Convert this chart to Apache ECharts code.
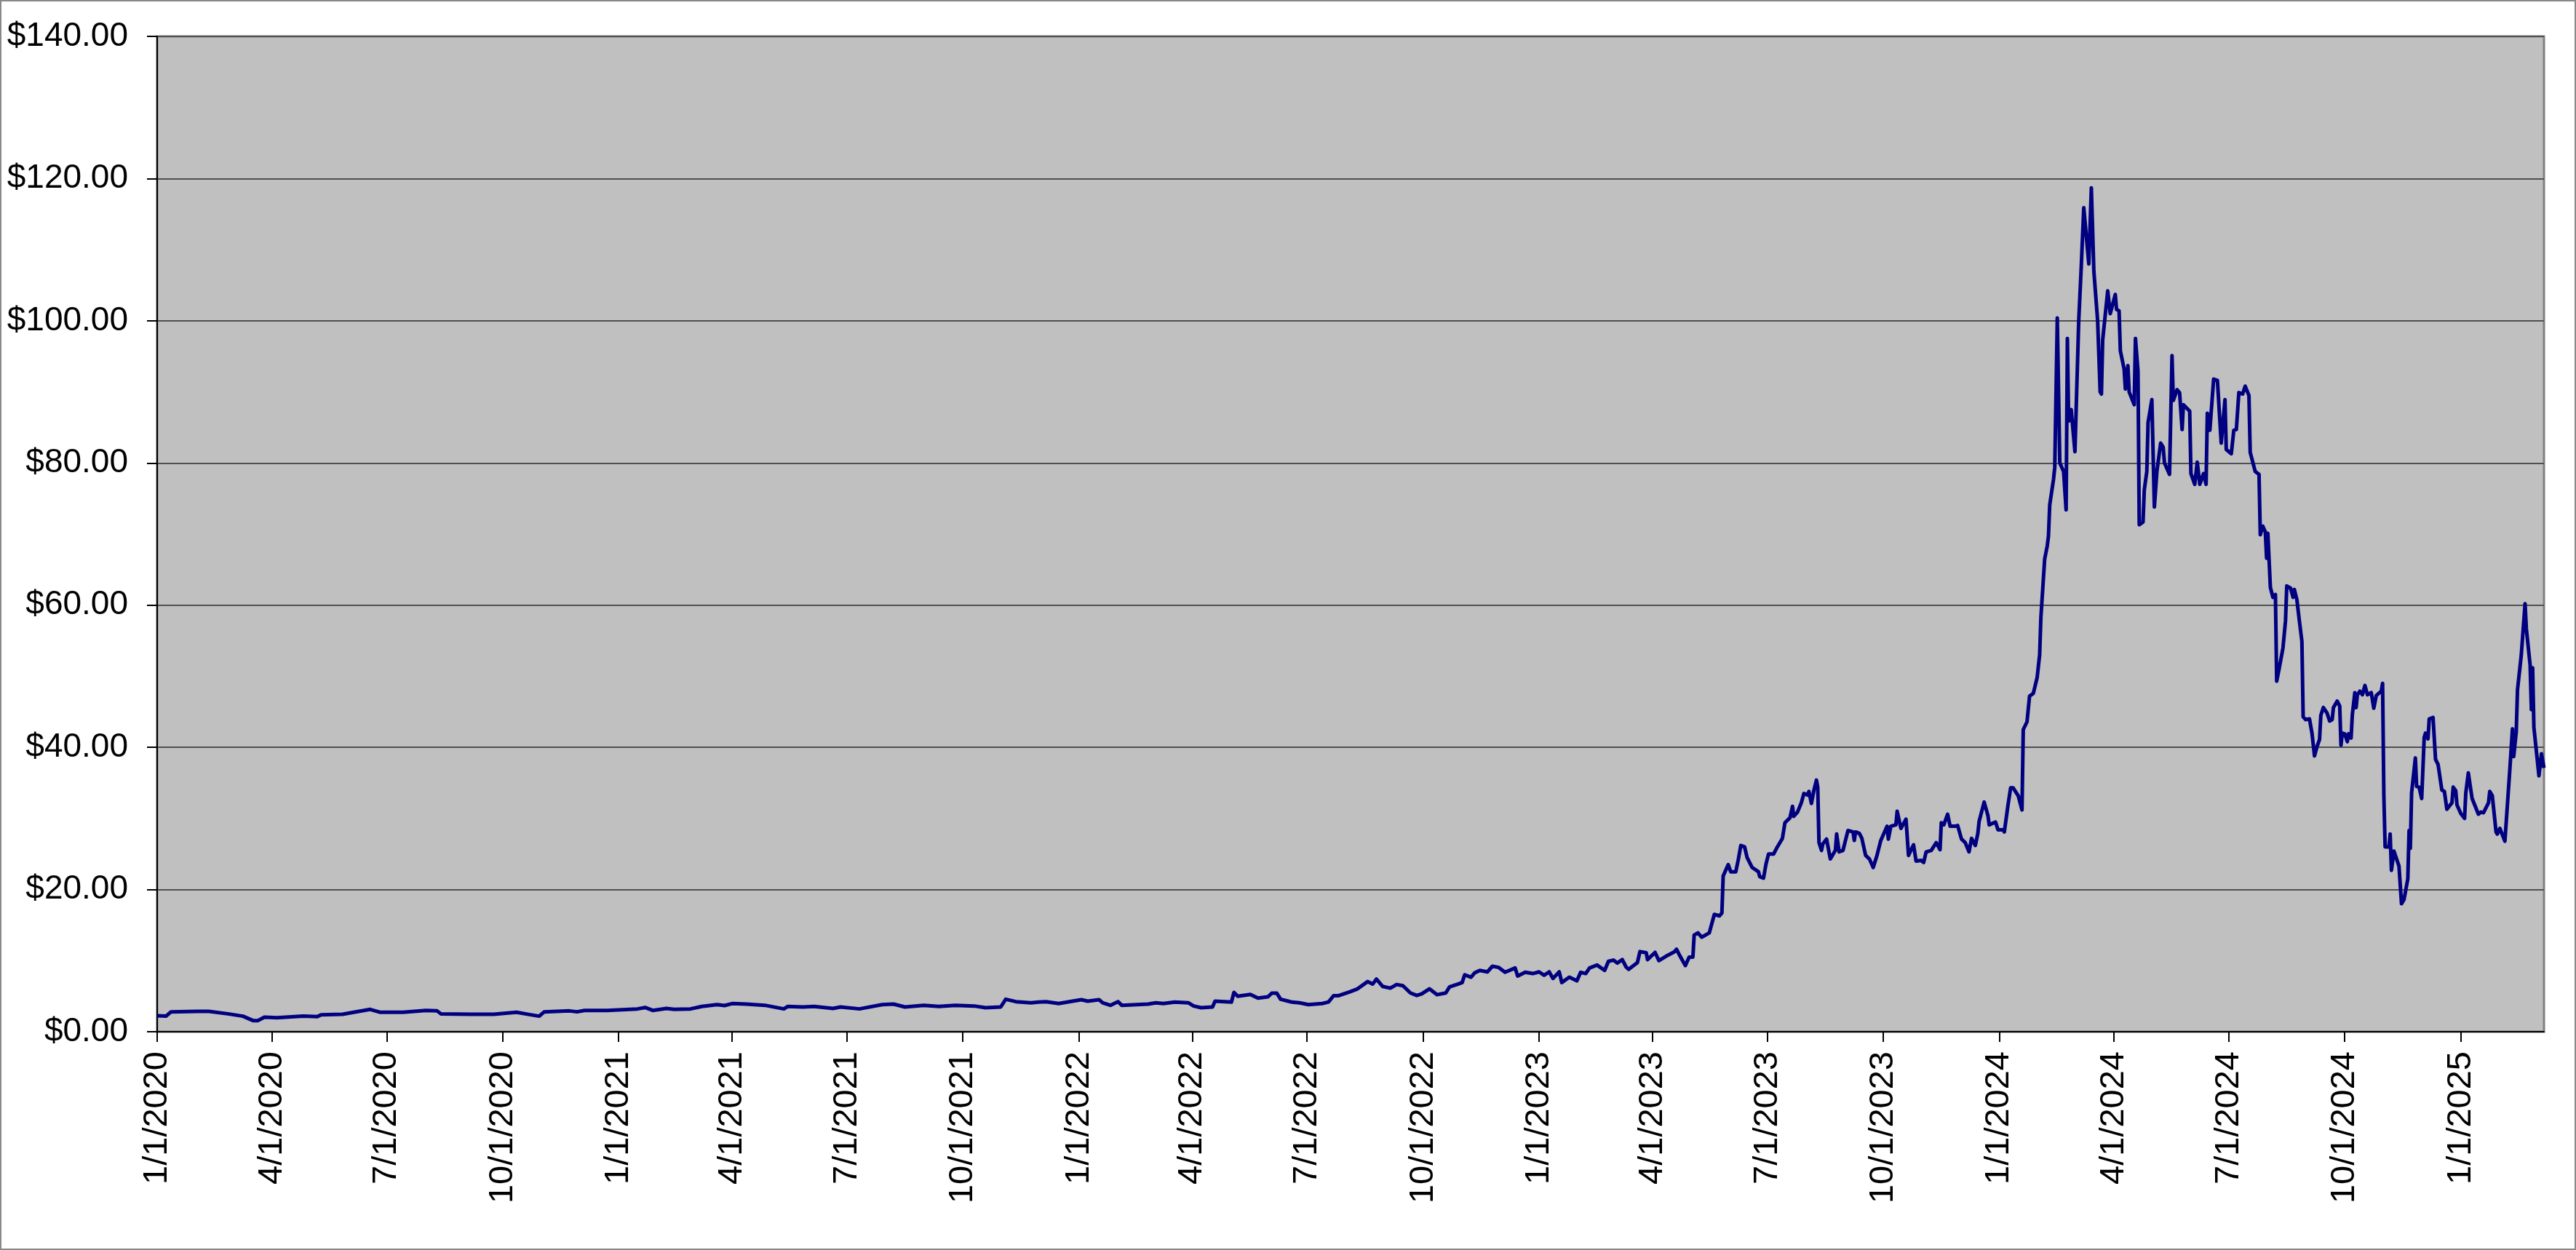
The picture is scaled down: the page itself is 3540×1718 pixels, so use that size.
<!DOCTYPE html>
<html>
<head>
<meta charset="utf-8">
<script src="https://cdn.jsdelivr.net/npm/echarts@6/dist/echarts.min.js"></script>
<style>
html,body{margin:0;padding:0;background:#fff;}
#chart{width:3540px;height:1718px;}
</style>
</head>
<body>
<div id="chart"></div>
<script>
// Quarter tick labels on the date axis
const tickDates = ['2020-01-01','2020-04-01','2020-07-01','2020-10-01','2021-01-01','2021-04-01','2021-07-01','2021-10-01','2022-01-01','2022-04-01','2022-07-01','2022-10-01','2023-01-01','2023-04-01','2023-07-01','2023-10-01','2024-01-01','2024-04-01','2024-07-01','2024-10-01','2025-01-01'];
const axisStart = '2020-01-01';
const axisEnd = '2025-03-08';

// Price series [date, price]
const prices2020 = [['2020-01-01',2.25],['2020-01-08',2.19],['2020-01-12',2.80],['2020-02-02',2.87],['2020-02-11',2.87],['2020-02-26',2.52],['2020-03-09',2.19],['2020-03-17',1.57],['2020-03-21',1.57],['2020-03-26',2.05],['2020-04-05',1.98],['2020-04-26',2.19],['2020-05-07',2.12],['2020-05-10',2.39],['2020-05-27',2.46],['2020-06-09',2.87],['2020-06-18',3.14],['2020-06-26',2.73],['2020-07-14',2.73],['2020-08-01',3.00],['2020-08-10',2.93],['2020-08-13',2.52],['2020-09-06',2.46],['2020-09-24',2.46],['2020-10-12',2.73],['2020-10-23',2.39],['2020-10-30',2.19],['2020-11-03',2.80],['2020-11-23',2.93],['2020-11-29',2.80],['2020-12-05',3.00],['2020-12-23',3.00]];
const prices2021 = [['2021-01-16',3.21],['2021-01-22',3.41],['2021-01-28',3.00],['2021-02-08',3.28],['2021-02-14',3.14],['2021-02-27',3.21],['2021-03-08',3.55],['2021-03-20',3.82],['2021-03-26',3.68],['2021-04-01',3.96],['2021-04-12',3.89],['2021-04-27',3.72],['2021-05-12',3.21],['2021-05-15',3.55],['2021-05-27',3.48],['2021-06-05',3.55],['2021-06-20',3.28],['2021-06-26',3.48],['2021-07-11',3.21],['2021-07-29',3.82],['2021-08-07',3.89],['2021-08-16',3.48],['2021-08-31',3.72],['2021-09-12',3.55],['2021-09-25',3.72],['2021-10-10',3.62],['2021-10-19',3.38],['2021-10-31',3.48],['2021-11-04',4.57],['2021-11-12',4.23],['2021-11-24',4.06],['2021-11-30',4.16],['2021-12-06',4.23],['2021-12-16',3.96],['2021-12-27',4.30]];
const prices2022 = [['2022-01-03',4.50],['2022-01-08',4.30],['2022-01-17',4.50],['2022-01-20',4.06],['2022-01-26',3.72],['2022-02-01',4.23],['2022-02-04',3.72],['2022-02-16',3.82],['2022-02-25',3.89],['2022-03-03',4.06],['2022-03-09',3.96],['2022-03-18',4.16],['2022-03-29',4.06],['2022-04-02',3.62],['2022-04-08',3.38],['2022-04-17',3.48],['2022-04-19',4.30],['2022-05-02',4.16],['2022-05-04',5.53],['2022-05-07',4.98],['2022-05-17',5.25],['2022-05-23',4.74],['2022-05-31',4.91],['2022-06-03',5.42],['2022-06-07',5.42],['2022-06-10',4.57],['2022-06-16',4.30],['2022-06-19',4.16],['2022-06-25',4.06],['2022-07-02',3.82],['2022-07-13',3.97],['2022-07-18',4.18],['2022-07-22',5.07],['2022-07-26',5.07],['2022-08-04',5.62],['2022-08-10',6.03],['2022-08-18',7.05],['2022-08-22',6.71],['2022-08-25',7.40],['2022-08-30',6.37],['2022-09-05',6.13],['2022-09-10',6.64],['2022-09-15',6.47],['2022-09-21',5.45],['2022-09-26',5.10],['2022-09-30',5.34],['2022-10-06',6.03],['2022-10-12',5.21],['2022-10-19',5.45],['2022-10-22',6.30],['2022-10-29',6.71],['2022-11-01',6.92],['2022-11-03',8.01],['2022-11-08',7.67],['2022-11-11',8.29],['2022-11-15',8.63],['2022-11-21',8.42],['2022-11-25',9.21],['2022-11-30',9.04],['2022-12-05',8.36],['2022-12-13',8.97],['2022-12-15',7.84],['2022-12-21',8.36],['2022-12-27',8.18]];
const prices2023 = [['2023-01-01',8.42],['2023-01-05',7.95],['2023-01-09',8.42],['2023-01-12',7.50],['2023-01-17',8.42],['2023-01-19',6.92],['2023-01-25',7.67],['2023-01-31',7.16],['2023-02-03',8.36],['2023-02-07',8.18],['2023-02-10',8.97],['2023-02-16',9.38],['2023-02-22',8.63],['2023-02-25',9.90],['2023-03-01',10.07],['2023-03-04',9.66],['2023-03-08',10.14],['2023-03-11',9.11],['2023-03-13',8.77],['2023-03-20',9.73],['2023-03-22',11.27],['2023-03-27',11.10],['2023-03-28',10.14],['2023-04-03',11.16],['2023-04-06',10.00],['2023-04-13',10.75],['2023-04-18',11.2],['2023-04-20',11.6],['2023-04-22',10.9],['2023-04-27',9.3],['2023-04-30',10.5],['2023-05-03',10.5],['2023-05-04',13.6],['2023-05-07',13.9],['2023-05-10',13.3],['2023-05-13',13.6],['2023-05-16',13.9],['2023-05-20',16.5],['2023-05-24',16.3],['2023-05-26',16.7],['2023-05-27',21.9],['2023-05-31',23.5],['2023-06-02',22.5],['2023-06-06',22.5],['2023-06-08',24.2],['2023-06-10',26.2],['2023-06-13',26.0],['2023-06-15',24.5],['2023-06-19',23.1],['2023-06-24',22.5],['2023-06-25',21.8],['2023-06-28',21.6],['2023-06-30',23.6],['2023-07-02',25.0],['2023-07-06',25.0],['2023-07-09',26.0],['2023-07-13',27.2],['2023-07-15',29.4],['2023-07-19',30.1],['2023-07-21',31.7],['2023-07-22',30.3],['2023-07-25',30.9],['2023-07-28',32.2],['2023-07-30',33.5],['2023-08-02',33.3],['2023-08-03',33.8],['2023-08-05',32.1],['2023-08-07',34.0],['2023-08-09',35.4],['2023-08-10',34.4],['2023-08-11',26.6],['2023-08-13',25.5],['2023-08-14',26.4],['2023-08-17',27.1],['2023-08-20',24.3],['2023-08-24',25.5],['2023-08-25',27.8],['2023-08-27',25.3],['2023-08-30',25.5],['2023-09-03',28.3],['2023-09-07',28.1],['2023-09-08',26.9],['2023-09-09',28.1],['2023-09-12',27.9],['2023-09-14',27.2],['2023-09-17',24.8],['2023-09-20',24.3],['2023-09-23',23.1],['2023-09-26',24.8],['2023-09-29',26.9],['2023-10-04',28.9],['2023-10-05',27.1],['2023-10-07',28.9],['2023-10-11',29.1],['2023-10-12',31.0],['2023-10-15',28.6],['2023-10-19',29.9],['2023-10-21',24.8],['2023-10-25',26.3],['2023-10-27',24.0],['2023-10-31',24.1],['2023-11-02',23.8],['2023-11-04',25.3],['2023-11-08',25.5],['2023-11-12',26.6],['2023-11-15',25.6],['2023-11-16',29.4],['2023-11-18',29.1],['2023-11-21',30.6],['2023-11-23',28.9],['2023-11-27',28.9],['2023-11-29',29.0],['2023-12-02',27.1],['2023-12-05',26.6],['2023-12-08',25.3],['2023-12-10',27.2],['2023-12-13',26.2],['2023-12-15',27.9],['2023-12-16',29.6],['2023-12-20',32.3],['2023-12-23',30.4],['2023-12-24',29.1],['2023-12-29',29.5],['2023-12-31',28.4]];
const prices2024a = [['2024-01-04',28.4],['2024-01-05',28.1],['2024-01-08',32.0],['2024-01-10',34.3],['2024-01-12',34.3],['2024-01-16',33.2],['2024-01-19',31.2],['2024-01-20',42.5],['2024-01-23',43.6],['2024-01-25',47.2],['2024-01-28',47.6],['2024-01-31',49.8],['2024-02-02',53.0],['2024-02-03',58.3],['2024-02-04',58.4],['2024-02-06',66.5],['2024-02-08',68.3],['2024-02-09',69.7],['2024-02-10',74.1],['2024-02-13',77.7],['2024-02-14',79.4],['2024-02-16',100.4],['2024-02-18',80.0],['2024-02-21',78.8],['2024-02-23',73.4],['2024-02-24',97.5],['2024-02-25',85.9],['2024-02-27',87.5],['2024-03-01',81.6],['2024-03-04',100.0],['2024-03-06',107.6],['2024-03-08',115.9],['2024-03-12',108.0],['2024-03-14',118.7],['2024-03-16',107.0],['2024-03-19',100.0],['2024-03-21',90.0],['2024-03-22',89.7],['2024-03-23',97.3],['2024-03-27',104.2],['2024-03-29',101.0],['2024-04-02',103.7],['2024-04-03',101.6],['2024-04-05',101.4],['2024-04-06',95.8],['2024-04-09',93.2],['2024-04-10',90.4],['2024-04-12',93.7],['2024-04-13',90.0],['2024-04-17',88.2],['2024-04-18',97.5],['2024-04-20',92.9],['2024-04-21',71.3],['2024-04-24',71.7],['2024-04-25',76.2],['2024-04-27',78.8],['2024-04-28',85.7],['2024-05-01',88.9],['2024-05-03',73.8],['2024-05-05',78.8],['2024-05-08',82.8],['2024-05-10',82.2],['2024-05-11',80.0],['2024-05-15',78.4],['2024-05-17',95.1],['2024-05-18',88.8],['2024-05-21',90.3],['2024-05-23',89.9],['2024-05-25',84.7],['2024-05-26',88.2],['2024-05-31',87.3],['2024-06-01',78.5],['2024-06-04',77.0],['2024-06-06',80.1],['2024-06-08',77.0],['2024-06-11',78.5],['2024-06-13',77.0],['2024-06-14',87.0],['2024-06-16',84.6],['2024-06-19',91.8],['2024-06-22',91.6],['2024-06-25',82.8],['2024-06-28',88.9],['2024-06-29',81.9]];
const prices2024b = [['2024-07-03',81.3],['2024-07-05',84.6],['2024-07-07',84.7],['2024-07-09',89.9],['2024-07-12',89.7],['2024-07-14',90.8],['2024-07-17',89.5],['2024-07-18',81.5],['2024-07-22',78.8],['2024-07-25',78.4],['2024-07-26',69.9],['2024-07-28',71.1],['2024-07-30',70.3],['2024-07-31',66.6],['2024-08-01',70.1],['2024-08-03',62.5],['2024-08-05',61.1],['2024-08-07',61.5],['2024-08-08',49.3],['2024-08-10',51.1],['2024-08-13',54.0],['2024-08-15',57.8],['2024-08-16',62.7],['2024-08-19',62.4],['2024-08-21',61.1],['2024-08-22',62.2],['2024-08-24',60.8],['2024-08-26',57.8],['2024-08-28',54.9],['2024-08-29',44.3],['2024-08-31',43.9],['2024-09-03',44.0],['2024-09-05',42.0],['2024-09-07',38.8],['2024-09-09',40.1],['2024-09-11',41.1],['2024-09-12',44.5],['2024-09-14',45.6],['2024-09-17',44.8],['2024-09-19',43.7],['2024-09-21',43.9],['2024-09-22',45.6],['2024-09-25',46.5],['2024-09-27',45.8],['2024-09-28',40.3],['2024-09-29',42.0],['2024-10-01',41.9],['2024-10-03',40.8],['2024-10-04',41.9],['2024-10-06',41.3],['2024-10-07',44.6],['2024-10-09',47.7],['2024-10-10',45.6],['2024-10-11',47.4],['2024-10-13',47.9],['2024-10-15',47.4],['2024-10-17',48.7],['2024-10-19',47.4],['2024-10-22',47.7],['2024-10-24',45.5],['2024-10-26',47.3],['2024-10-30',47.9],['2024-10-31',49.0],['2024-11-01',33.2],['2024-11-02',26.0],['2024-11-05',26.0],['2024-11-06',27.8],['2024-11-07',22.7],['2024-11-09',25.4],['2024-11-13',23.3],['2024-11-15',18.0],['2024-11-17',18.6],['2024-11-20',21.5],['2024-11-21',28.3],['2024-11-22',25.8],['2024-11-23',33.6],['2024-11-26',38.5],['2024-11-27',34.5],['2024-11-29',34.4],['2024-12-01',32.8],['2024-12-03',41.4],['2024-12-04',42.0],['2024-12-06',41.2],['2024-12-07',44.0],['2024-12-10',44.2],['2024-12-12',38.3],['2024-12-14',37.6],['2024-12-17',34.0],['2024-12-19',33.8],['2024-12-21',31.3],['2024-12-25',32.2],['2024-12-26',34.4],['2024-12-28',33.9],['2024-12-29',31.9]];
const prices2025 = [['2025-01-01',30.7],['2025-01-04',30.0],['2025-01-05',33.6],['2025-01-07',36.4],['2025-01-10',32.8],['2025-01-11',32.8],['2025-01-15',30.6],['2025-01-17',30.9],['2025-01-19',30.8],['2025-01-23',32.2],['2025-01-24',33.8],['2025-01-26',33.2],['2025-01-29',28.1],['2025-01-30',27.8],['2025-02-01',28.6],['2025-02-05',26.8],['2025-02-09',37.1],['2025-02-11',42.6],['2025-02-12',38.7],['2025-02-14',42.2],['2025-02-15',48.1],['2025-02-18',53.0],['2025-02-21',60.2],['2025-02-22',56.7],['2025-02-25',51.6],['2025-02-26',45.3],['2025-02-27',51.2],['2025-02-28',42.8],['2025-03-04',36.0],['2025-03-06',39.1],['2025-03-08',37.1]];

// Daily date categories of the axis (Excel-style date axis)
function isoDay(t){ return new Date(t).toISOString().slice(0,10); }
const dayCategories = [];
for (let t = Date.parse(axisStart + 'T00:00:00Z'); t <= Date.parse(axisEnd + 'T00:00:00Z'); t += 86400000) {
  dayCategories.push(isoDay(t));
}
const tickSet = new Set(tickDates);
function usDate(s){ const p = s.split('-'); return (+p[1]) + '/' + (+p[2]) + '/' + p[0]; }

const seriesData = [].concat(prices2020, prices2021, prices2022, prices2023, prices2024a, prices2024b, prices2025);

const FONT = "'Liberation Sans', Arial, sans-serif";
const chart = echarts.init(document.getElementById('chart'), null, {renderer:'canvas'});
chart.setOption({
  animation: false,
  backgroundColor: '#ffffff',
  grid: {
    left: 216, right: 44, top: 50, bottom: 300,
    show: true, backgroundColor: '#C0C0C0', borderColor: '#808080', borderWidth: 3,
    containLabel: false
  },
  graphic: [{
    type: 'rect', silent: true, z: 100,
    shape: {x: 1, y: 1, width: 3538, height: 1716},
    style: {fill: 'none', stroke: '#888888', lineWidth: 2}
  }],
  xAxis: {
    type: 'category',
    data: dayCategories,
    boundaryGap: false,
    axisLine: {show: true, onZero: false, lineStyle: {color: '#000000', width: 2}},
    axisTick: {show: true, length: 14, lineStyle: {color: '#000000', width: 2},
      interval: function(i, v){ return tickSet.has(v); }},
    axisLabel: {
      show: true, rotate: 90, margin: 27, color: '#000000', fontSize: 47, fontFamily: FONT,
      interval: function(i, v){ return tickSet.has(v); },
      formatter: function(v){ return usDate(v); }
    },
    splitLine: {show: false}
  },
  yAxis: {
    type: 'value', min: 0, max: 140, interval: 20,
    axisLine: {show: true, lineStyle: {color: '#000000', width: 2}},
    axisTick: {show: true, length: 14, lineStyle: {color: '#000000', width: 2}},
    axisLabel: {color: '#000000', fontSize: 46, fontFamily: FONT, margin: 40,
      formatter: function(v){ return '$' + v.toFixed(2); }},
    splitLine: {show: true, lineStyle: {color: '#505050', width: 2}}
  },
  series: [{
    type: 'line',
    data: seriesData,
    showSymbol: false,
    symbol: 'none',
    sampling: null,
    lineStyle: {color: '#000080', width: 5, join: 'round'},
    z: 5
  }]
});
</script>
</body>
</html>
